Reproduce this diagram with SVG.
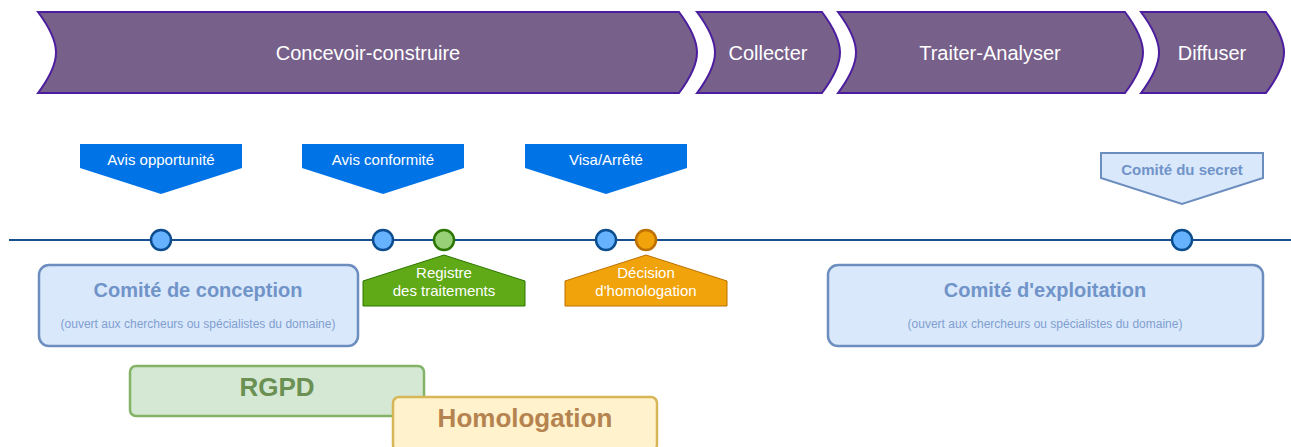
<svg xmlns="http://www.w3.org/2000/svg" width="1291" height="447" viewBox="0 0 1291 447">
<style>
.phase{fill:#77608a;stroke:#4c1d9e;stroke-width:2}
.ptxt{font-family:"Liberation Sans",Arial,sans-serif;font-size:20px;fill:#ffffff;text-anchor:middle;dominant-baseline:central}
.blue{fill:#0073e6;stroke:none}
.wtxt{font-family:"Liberation Sans",Arial,sans-serif;font-size:15px;fill:#ffffff;text-anchor:middle;dominant-baseline:central}
.lb{fill:#dae8fc;stroke:#6c8ebf;stroke-width:2.5}
.lbt{font-family:"Liberation Sans",Arial,sans-serif;font-weight:bold;fill:#7094c8;text-anchor:middle;dominant-baseline:central}
.sub{font-family:"Liberation Sans",Arial,sans-serif;font-size:12px;fill:#7f9fcf;text-anchor:middle;dominant-baseline:central}
.cb{fill:#66b2ff;stroke:#0b4d8f;stroke-width:2.5}
.cg{fill:#97d077;stroke:#2d7600;stroke-width:2.5}
.co{fill:#f0a30a;stroke:#bd7000;stroke-width:2.5}
</style>
<g id="phases">
<g id="phase-concevoir">
<path class="phase" d="M38,12 L679,12 C691,28 697,40 697,52.5 C697,65 691,77 679,93 L38,93 C50,77 56,65 56,52.5 C56,40 50,28 38,12 Z"/>
<text class="ptxt" x="368" y="53">Concevoir-construire</text>
</g>
<g id="phase-collecter">
<path class="phase" d="M697,12 L822,12 C834,28 840,40 840,52.5 C840,65 834,77 822,93 L697,93 C709,77 715,65 715,52.5 C715,40 709,28 697,12 Z"/>
<text class="ptxt" x="768" y="53">Collecter</text>
</g>
<g id="phase-traiter">
<path class="phase" d="M838,12 L1125,12 C1137,28 1143,40 1143,52.5 C1143,65 1137,77 1125,93 L838,93 C850,77 856,65 856,52.5 C856,40 850,28 838,12 Z"/>
<text class="ptxt" x="990" y="53">Traiter-Analyser</text>
</g>
<g id="phase-diffuser">
<path class="phase" d="M1141,12 L1266,12 C1278,28 1284,40 1284,52.5 C1284,65 1278,77 1266,93 L1141,93 C1153,77 1159,65 1159,52.5 C1159,40 1153,28 1141,12 Z"/>
<text class="ptxt" x="1212" y="53">Diffuser</text>
</g>
</g>
<g id="connectors">
<line x1="9" y1="240" x2="1291" y2="240" stroke="#1a4f8f" stroke-width="2"/>
</g>
<g id="avis-opportunite">
<path class="blue" d="M80,144 H242 V168 L161,194 L80,168 Z"/>
<text class="wtxt" x="161" y="159">Avis opportunité</text>
</g>
<g id="avis-conformite">
<path class="blue" d="M302,144 H464 V168 L383,194 L302,168 Z"/>
<text class="wtxt" x="383" y="159">Avis conformité</text>
</g>
<g id="visa">
<path class="blue" d="M525,144 H687 V168 L606,194 L525,168 Z"/>
<text class="wtxt" x="606" y="159">Visa/Arrêté</text>
</g>
<g id="comite-secret">
<path d="M1101,153 H1263 V178 L1182,204 L1101,178 Z" fill="#dae8fc" stroke="#6c8ebf" stroke-width="2"/>
<text class="lbt" x="1182" y="169" font-size="15">Comité du secret</text>
</g>
<g id="registre">
<path d="M363,281 L444,255 L525,281 V306 H363 Z" fill="#60a917" stroke="#2d7600" stroke-width="1"/>
<text class="wtxt" x="444" y="272">Registre</text>
<text class="wtxt" x="444" y="290">des traitements</text>
</g>
<g id="decision">
<path d="M565,281 L646,255 L727,281 V306 H565 Z" fill="#f0a30a" stroke="#bd7000" stroke-width="1"/>
<text class="wtxt" x="646" y="272">Décision</text>
<text class="wtxt" x="646" y="290">d'homologation</text>
</g>
<g id="milestones">
<circle class="cb" cx="161" cy="240" r="10"/>
<circle class="cb" cx="383" cy="240" r="10"/>
<circle class="cg" cx="444" cy="240" r="10"/>
<circle class="cb" cx="606" cy="240" r="10"/>
<circle class="co" cx="646" cy="240" r="10"/>
<circle class="cb" cx="1182" cy="240" r="10"/>
</g>
<g id="comite-conception">
<rect class="lb" x="39" y="265" width="319" height="81" rx="10"/>
<text class="lbt" x="198" y="290" font-size="20">Comité de conception</text>
<text class="sub" x="198" y="324">(ouvert aux chercheurs ou spécialistes du domaine)</text>
</g>
<g id="comite-exploitation">
<rect class="lb" x="828" y="265" width="435" height="81" rx="10"/>
<text class="lbt" x="1045" y="290" font-size="20">Comité d'exploitation</text>
<text class="sub" x="1045" y="324">(ouvert aux chercheurs ou spécialistes du domaine)</text>
</g>
<g id="rgpd">
<rect x="130" y="366" width="294" height="50" rx="6" fill="#d5e8d4" stroke="#82b366" stroke-width="2.5"/>
<text class="lbt" x="277" y="387" font-size="26" style="fill:#6a9153">RGPD</text>
</g>
<g id="homologation">
<rect x="393" y="397" width="264" height="54" rx="6" fill="#fff2cc" stroke="#d6b656" stroke-width="2.5"/>
<text class="lbt" x="525" y="418" font-size="26" style="fill:#b5834f">Homologation</text>
</g>
</svg>
